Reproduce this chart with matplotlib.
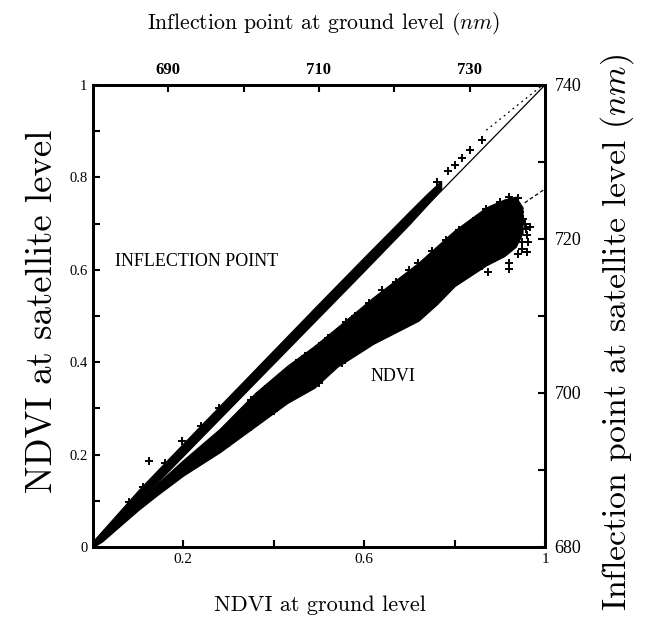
import matplotlib
matplotlib.use("Agg")
import matplotlib.pyplot as plt
from matplotlib.ticker import FixedLocator

plt.rcParams['mathtext.fontset'] = 'cm'

# ---------------- data ----------------
# NDVI cloud: envelope of the dense core (ground NDVI -> satellite NDVI)
ndvi_env_x = [0.0, 0.02, 0.10, 0.14, 0.20, 0.28, 0.36, 0.43, 0.49, 0.54, 0.62, 0.68, 0.72, 0.76, 0.80, 0.87, 0.91, 0.935, 0.95]
ndvi_env_hi = [0.0, 0.02, 0.095, 0.135, 0.188, 0.255, 0.334, 0.392, 0.435, 0.475, 0.54, 0.585, 0.615, 0.650, 0.685, 0.735, 0.752, 0.758, 0.735]
ndvi_env_lo = [0.0, 0.012, 0.08, 0.111, 0.155, 0.205, 0.262, 0.312, 0.345, 0.39, 0.44, 0.47, 0.49, 0.525, 0.565, 0.61, 0.63, 0.65, 0.68]

# NDVI individual points along the edges / outliers
ndvi_pts_x = [0.30, 0.33, 0.35, 0.38, 0.40, 0.42, 0.45, 0.47, 0.50, 0.52, 0.56, 0.58, 0.61, 0.64, 0.67,
              0.70, 0.72, 0.75, 0.78, 0.81, 0.84, 0.87, 0.90, 0.92, 0.94,
              0.25, 0.30, 0.35, 0.40, 0.45, 0.50, 0.55, 0.60, 0.65, 0.70, 0.74, 0.78, 0.82, 0.86,
              0.89, 0.92, 0.95, 0.96, 0.955, 0.94, 0.90, 0.873, 0.92, 0.967, 0.962, 0.93, 0.91,
              0.945, 0.952, 0.958, 0.935, 0.905, 0.96, 0.948]
ndvi_pts_y = [0.265, 0.295, 0.318, 0.341, 0.358, 0.374, 0.398, 0.414, 0.436, 0.452, 0.486, 0.501, 0.529, 0.556, 0.574,
              0.599, 0.614, 0.641, 0.664, 0.686, 0.706, 0.731, 0.746, 0.758, 0.755,
              0.193, 0.225, 0.26, 0.295, 0.328, 0.355, 0.398, 0.435, 0.463, 0.486, 0.518, 0.555, 0.588, 0.608,
              0.625, 0.615, 0.645, 0.675, 0.70, 0.635, 0.635, 0.595, 0.602, 0.693, 0.66, 0.655, 0.68,
              0.725, 0.71, 0.688, 0.745, 0.72, 0.638, 0.66]

# Inflection point band (ground -> satellite, normalised 680-740 nm)
infl_env_x = [0.0, 0.10, 0.20, 0.30, 0.40, 0.50, 0.60, 0.70, 0.74, 0.77]
infl_env_hi = [0.012, 0.122, 0.224, 0.325, 0.426, 0.527, 0.627, 0.726, 0.765, 0.792]
infl_env_lo = [0.0, 0.098, 0.198, 0.298, 0.398, 0.498, 0.598, 0.699, 0.742, 0.775]

infl_pts_x = [0.125, 0.198, 0.08, 0.11, 0.16, 0.24, 0.28, 0.76, 0.785, 0.80, 0.816, 0.834, 0.86]
infl_pts_y = [0.187, 0.230, 0.097, 0.130, 0.182, 0.262, 0.300, 0.790, 0.814, 0.826, 0.842, 0.860, 0.881]

# reference / regression lines
diag_x = [0.0, 1.0]
diag_y = [0.0, 1.0]
infl_reg_x = [0.87, 0.995]
infl_reg_y = [0.902, 1.0]
ndvi_reg_x = [0.955, 1.0]
ndvi_reg_y = [0.745, 0.775]

bottom_major = [0.2, 0.6, 1.0]
bottom_minor = [0.4, 0.8]
left_major = [0, 0.2, 0.4, 0.6, 0.8, 1.0]
left_minor = [0.1, 0.3, 0.5, 0.7, 0.9]
left_labels = ['0', '0.2', '0.4', '0.6', '0.8', '1']
bottom_labels = ['0.2', '0.6', '1']
top_major = [690, 710, 730]
top_minor = [700, 720]
right_major = [680, 700, 720, 740]
right_minor = [690, 710, 730]

# ---------------- figure ----------------
fig = plt.figure(figsize=(6.45, 6.23), dpi=100)
ax = fig.add_axes([0.144, 0.122, 0.701, 0.7416])

ax.plot(diag_x, diag_y, color='black', linewidth=0.9)
ax.plot(infl_reg_x, infl_reg_y, color='black', linewidth=0.9, linestyle=(0, (1.5, 3)))
ax.plot(ndvi_reg_x, ndvi_reg_y, color='black', linewidth=0.9, linestyle=(0, (3, 2)))

ax.fill_between(ndvi_env_x, ndvi_env_lo, ndvi_env_hi, color='black', linewidth=1.0)
ax.scatter(ndvi_pts_x, ndvi_pts_y, marker='+', s=30, color='black', linewidths=1.4)
ax.fill_between(infl_env_x, infl_env_lo, infl_env_hi, color='black', linewidth=1.0)
ax.scatter(infl_pts_x, infl_pts_y, marker='+', s=28, color='black', linewidths=1.4)

ax.set_xlim(0, 1)
ax.set_ylim(0, 1)

ax.xaxis.set_major_locator(FixedLocator(bottom_major))
ax.xaxis.set_minor_locator(FixedLocator(bottom_minor))
ax.set_xticklabels(bottom_labels, fontdict=dict(family='Liberation Serif', size=11))
ax.yaxis.set_major_locator(FixedLocator(left_major))
ax.yaxis.set_minor_locator(FixedLocator(left_minor))
ax.set_yticklabels(left_labels, fontdict=dict(family='Liberation Serif', size=10.5))
ax.tick_params(which='both', direction='in', length=5, width=1.5, pad=4)

for s in ax.spines.values():
    s.set_linewidth(2.0)

axt = ax.twiny()
axt.set_xlim(680, 740)
axt.xaxis.set_major_locator(FixedLocator(top_major))
axt.xaxis.set_minor_locator(FixedLocator(top_minor))
axt.set_xticklabels([str(v) for v in top_major],
                    fontdict=dict(family='Liberation Serif', size=12, weight='bold'))
axt.tick_params(which='both', direction='in', length=5, width=1.5, pad=5)

axr = ax.twinx()
axr.set_ylim(680, 740)
axr.yaxis.set_major_locator(FixedLocator(right_major))
axr.yaxis.set_minor_locator(FixedLocator(right_minor))
axr.set_yticklabels([str(v) for v in right_major], fontdict=dict(family='Liberation Serif', size=13))
axr.tick_params(which='both', direction='in', length=5, width=1.5, pad=7)
for a in (axt, axr):
    for s in a.spines.values():
        s.set_linewidth(2.0)

ax.text(0.05, 0.617, 'INFLECTION POINT', family='Liberation Serif', fontsize=13, va='center', ha='left')
ax.text(0.664, 0.37, 'NDVI', family='Liberation Serif', fontsize=13, va='center', ha='center')

fig.text(0.496, 0.029, 'NDVI at ground level', ha='center', va='center', family='cmr10', fontsize=16)
fig.text(0.502, 0.963, 'Inflection point at ground level $(nm)$', ha='center', va='center',
         family='cmr10', fontsize=15.7)
fig.text(0.066, 0.50, 'NDVI at satellite level', ha='center', va='center', rotation=90,
         family='cmr10', fontsize=26.5)
fig.text(0.956, 0.467, 'Inflection point at satellite level $(nm)$', ha='center', va='center', rotation=90,
         family='cmr10', fontsize=24.3)

fig.savefig('out.png', dpi=100)
